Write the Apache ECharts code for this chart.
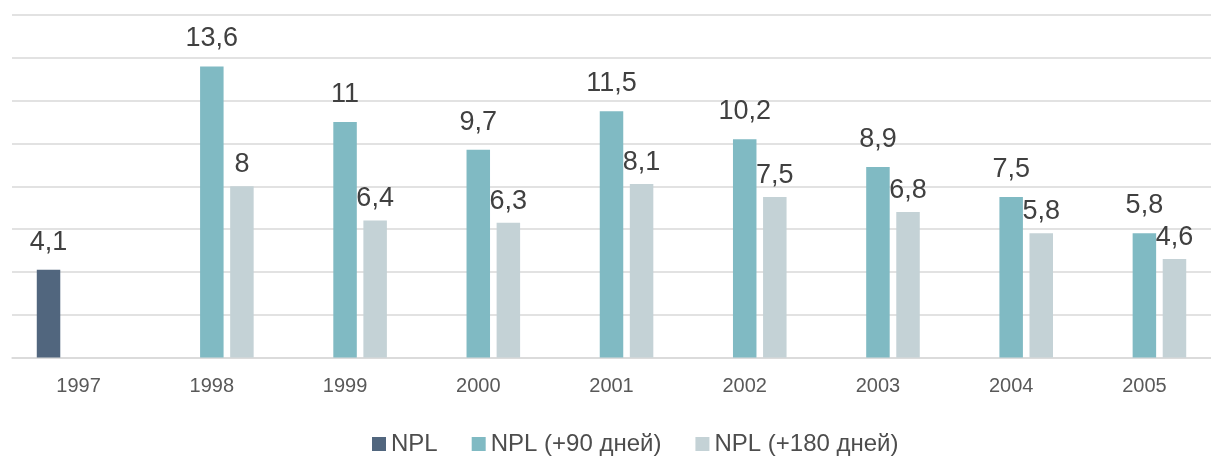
<!DOCTYPE html>
<html><head><meta charset="utf-8">
<script src="https://cdn.jsdelivr.net/npm/echarts@6/dist/echarts.min.js"></script>
<style>html,body{margin:0;padding:0;background:#fff}#c{width:1211px;height:457px}</style>
</head><body><div id="c"></div>
<script>
const categories = ['1997','1998','1999','2000','2001','2002','2003','2004','2005'];
const seriesNames = ['NPL','NPL (+90 дней)','NPL (+180 дней)'];
const npl = [4.1, null, null, null, null, null, null, null, null];
const npl90 = [null, 13.6, 11, 9.7, 11.5, 10.2, 8.9, 7.5, 5.8];
const npl180 = [null, 8, 6.4, 6.3, 8.1, 7.5, 6.8, 5.8, 4.6];
const yMin = 0, yMax = 16, yStep = 2;

const FONT = '"Liberation Sans Narrow","Arial Narrow","Liberation Sans",sans-serif';
const fmt = p => p.value == null ? '' : String(p.value).replace('.', ',');
function mk(name, data, color, dist) {
  return {
    name, type: 'bar', data, barWidth: 23.5, barGap: '28%',
    itemStyle: { color },
    label: { show: true, position: 'top', distance: dist, formatter: fmt,
      fontFamily: FONT, fontSize: 27, color: '#404040' }
  };
}
const chart = echarts.init(document.getElementById('c'));
chart.setOption({
  animation: false,
  grid: { left: 12, right: 0, top: 15, bottom: 99.5 },
  legend: { left: 367, top: 427, itemWidth: 14, itemHeight: 14, itemGap: 34,
    textStyle: { fontFamily: FONT, fontSize: 24, color: '#4d4d4d' },
    icon: 'rect', data: seriesNames },
  xAxis: { type: 'category', data: categories,
    axisLine: { lineStyle: { color: '#d9d9d9', width: 1.5 } }, axisTick: { show: false },
    axisLabel: { fontFamily: FONT, fontSize: 20, color: '#595959', margin: 19 } },
  yAxis: { type: 'value', min: yMin, max: yMax, interval: yStep,
    axisLabel: { show: false }, axisLine: { show: false }, axisTick: { show: false },
    splitLine: { lineStyle: { color: '#d9d9d9', width: 1.5 } } },
  series: [
    mk(seriesNames[0], npl, '#51667e', 14),
    mk(seriesNames[1], npl90, '#80bac3', 14),
    mk(seriesNames[2], npl180, '#c4d2d6', 8)
  ]
});
</script></body></html>
